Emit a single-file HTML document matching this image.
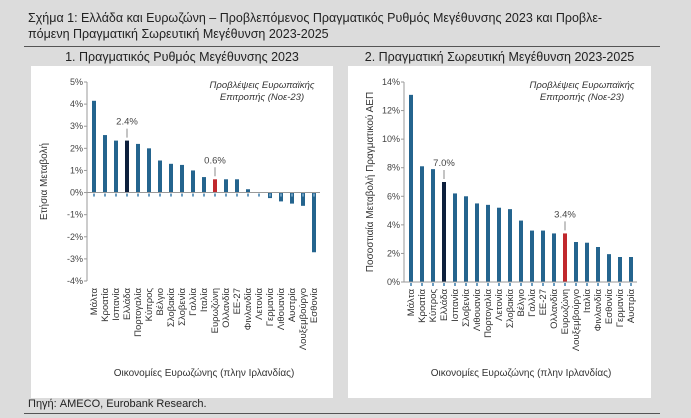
<!DOCTYPE html>
<html><head><meta charset="utf-8"><style>
body{margin:0;width:691px;height:418px;background:#dcdcdc;font-family:"Liberation Sans","DejaVu Sans",sans-serif;overflow:hidden;position:relative}
.t{position:absolute;color:#222;white-space:nowrap}
</style></head><body>
<div class="t" style="left:28px;top:10px;font-size:12.5px;line-height:16px">Σχήμα 1: Ελλάδα και Ευρωζώνη – Προβλεπόμενος Πραγματικός Ρυθμός Μεγέθυνσης 2023 και Προβλε-<br>πόμενη Πραγματική Σωρευτική Μεγέθυνση 2023-2025</div>
<div style="position:absolute;left:24px;top:46px;width:636px;height:1px;background:#555"></div>
<div class="t" style="left:31px;width:302px;text-align:center;top:50px;font-size:12.5px">1. Πραγματικός Ρυθμός Μεγέθυνσης 2023</div>
<div class="t" style="left:348px;width:303px;text-align:center;top:50px;font-size:12.5px">2. Πραγματική Σωρευτική Μεγέθυνση 2023-2025</div>
<svg width="691" height="418" style="position:absolute;left:0;top:0">
<rect x="31" y="66" width="302" height="332" fill="#fff"/>
<rect x="348" y="66" width="303" height="332" fill="#fff"/>
<g id="c1"></g><g id="c2"></g>
</svg>
<div class="t" style="left:28px;top:398px;font-size:11px">Πηγή: AMECO, Eurobank Research.</div>
<div style="position:absolute;left:24px;top:413px;width:636px;height:1px;background:#555"></div>
<script>
const cats1=["Μάλτα","Κροατία","Ισπανία","Ελλάδα","Πορτογαλία","Κύπρος","Βέλγιο","Σλοβακία","Σλοβενία","Γαλλία","Ιταλία","Ευρωζώνη","Ολλανδία","ΕΕ-27","Φινλανδία","Λετονία","Γερμανία","Λιθουανία","Αυστρία","Λουξεμβούργο","Εσθονία"];
const vals1=[4.15,2.6,2.35,2.35,2.2,2.0,1.45,1.3,1.25,1.0,0.7,0.6,0.6,0.6,0.15,0.0,-0.25,-0.4,-0.5,-0.6,-2.7];
const ticks1=[-4,-3,-2,-1,0,1,2,3,4,5];
const cats2=["Μάλτα","Κροατία","Κύπρος","Ελλάδα","Ισπανία","Σλοβενία","Λιθουανία","Πορτογαλία","Λετονία","Σλοβακία","Βέλγιο","Γαλλία","ΕΕ-27","Ολλανδία","Ευρωζώνη","Λουξεμβούργο","Ιταλία","Φινλανδία","Εσθονία","Γερμανία","Αυστρία"];
const vals2=[13.1,8.1,7.9,7.0,6.2,6.0,5.5,5.4,5.2,5.1,4.3,3.6,3.6,3.4,3.4,2.8,2.75,2.45,1.95,1.75,1.75];
const ticks2=[0,2,4,6,8,10,12,14];
const NS="http://www.w3.org/2000/svg";
function mk(p,tag,a,txt){const e=document.createElementNS(NS,tag);for(const k in a)e.setAttribute(k,a[k]);if(txt!==undefined)e.textContent=txt;p.appendChild(e);return e;}
function draw(g,cats,vals,ticks,o){
  const y=v=>o.y0+(v-o.min)/(o.max-o.min)*(o.y1-o.y0);
  const x=i=>o.x0+i*(o.x1-o.x0)/(cats.length-1);
  ticks.forEach(t=>{
    const tl=mk(g,'text',{x:o.ax-4,y:y(t)+3,'text-anchor':'end','font-size':9,fill:'#444'},t+'%');
    
    
    mk(g,'line',{x1:o.ax-3,x2:o.ax,y1:y(t),y2:y(t),stroke:'#999'});
  });
  const ya=mk(g,'line',{x1:o.ax,x2:o.ax,y1:y(o.max),y2:y(o.min),stroke:'#999'});
  
  
  cats.forEach((c,i)=>{
    const v=vals[i];const col=i===o.dark?'#0d1f3c':(i===o.red?'#c0282d':'#24648e');
    const b=mk(g,'rect',{x:x(i)-2,y:Math.min(y(0),y(v)),width:4,height:Math.abs(y(v)-y(0)),fill:col});
    
    
    mk(g,'rect',{x:x(i)-1,y:y(0)+1,width:2,height:3,fill:'#6a9cc0'});
    const l=mk(g,'text',{transform:`translate(${x(i)+3},${o.ly}) rotate(-90)`,'text-anchor':'end','font-size':9.5,fill:'#333'},c);
    
    
    if(i===o.dark||i===o.red){
      mk(g,'line',{x1:x(i),x2:x(i),y1:y(v)-3,y2:y(v)-12,stroke:'#888'});
      const a=mk(g,'text',{x:x(i),y:y(v)-16,'text-anchor':'middle','font-size':9.5,fill:'#444'},v.toFixed(1)+'%');
      
      
    }
  });
  const xa=mk(g,'line',{x1:o.ax,x2:o.x1+6,y1:y(0),y2:y(0),stroke:'#999'});
  
  
  const yt=mk(g,'text',{transform:`translate(${o.ytx},${(y(o.max)+y(o.min))/2}) rotate(-90)`,'text-anchor':'middle','font-size':10,fill:'#333'},o.ytitle);
  
  
  const xt=mk(g,'text',{x:(o.x0+o.x1)/2,y:376,'text-anchor':'middle','font-size':10,fill:'#333'},'Οικονομίες Ευρωζώνης (πλην Ιρλανδίας)');
  
  
  const n1=mk(g,'text',{x:o.nx,y:88,'text-anchor':'middle','font-size':9.5,'font-style':'italic',fill:'#333'},'Προβλέψεις Ευρωπαϊκής');
  
  
  const n2=mk(g,'text',{x:o.nx,y:100,'text-anchor':'middle','font-size':9.5,'font-style':'italic',fill:'#333'},'Επιτροπής (Νοε-23)');
  
  
}
draw(document.getElementById('c1'),cats1,vals1,ticks1,{min:-4,max:5,y0:281,y1:82,x0:94,x1:314,ax:87,dark:3,red:11,ly:288,ytx:47,ytitle:'Ετήσια Μεταβολή',nx:262});
draw(document.getElementById('c2'),cats2,vals2,ticks2,{min:0,max:14,y0:282,y1:82,x0:411,x1:631,ax:404,dark:3,red:14,ly:289,ytx:373,ytitle:'Ποσοστιαία Μεταβολή Πραγματικού ΑΕΠ',nx:582});
</script>
</body></html>
